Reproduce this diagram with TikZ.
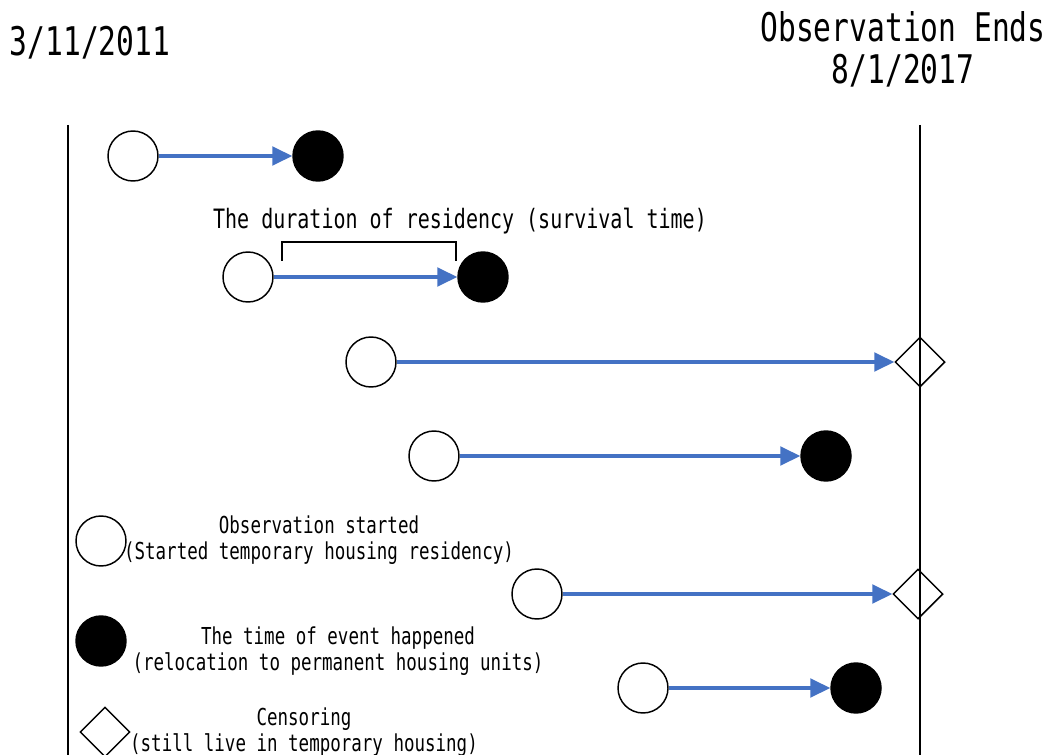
\documentclass[tikz,border=0pt]{standalone}
\usepackage{fontspec}
\usepackage{graphicx}
\setmonofont{DejaVu Sans Mono}
\usetikzlibrary{shapes.geometric,arrows.meta}
\definecolor{arrblue}{RGB}{68,114,196}
\newcommand{\narrow}[1]{\scalebox{0.75}[1]{#1}}
\tikzset{
  start/.style={circle,draw,line width=1.1pt,minimum size=37.5pt,inner sep=0pt},
  event/.style={circle,draw,fill=black,line width=1.1pt,minimum size=37.5pt,inner sep=0pt},
  censor/.style={diamond,draw,line width=1.1pt,minimum width=37.5pt,minimum height=37.5pt,inner sep=0pt},
  arr/.style={-{Triangle[length=15pt,width=14pt]},line width=2.4pt,arrblue},
  bigtxt/.style={font=\ttfamily\fontsize{29.6}{31.5}\selectfont,align=center,inner sep=0pt},
  midtxt/.style={font=\ttfamily\fontsize{20}{22}\selectfont,align=center,inner sep=0pt},
  smalltxt/.style={font=\ttfamily\fontsize{17.5}{19.5}\selectfont,align=center,inner sep=0pt}
}

\begin{document}
\begin{tikzpicture}[x=0.75pt,y=-0.75pt]
	\useasboundingbox (0,0) rectangle (1055,755);
	% time limits
	\draw[line width=1.5pt] (68,125) -- (68,755);
	\draw[line width=1.5pt] (920,125) -- (920,755);
	\node[bigtxt] (begin) at (90,43) {\narrow{3/11/2011}};
	\node[bigtxt] (finish) at (903,49) {\narrow{Observation Ends}\\\narrow{8/1/2017}};

	% subjects
	\node[start] (s1) at (133,156) {};
	\node[event] (e1) at (318,156) {};
	\draw[arr] (s1) -- (e1);

	\node[start] (s2) at (248,277) {};
	\node[event] (e2) at (483,277) {};
	\draw[arr] (s2) -- (e2);
	\draw[line width=2.2pt] (282,261) -- (282,242) -- (456,242) -- (456,261);
	\node[midtxt] (dur) at (460,221) {\narrow{The duration of residency (survival time)}};

	\node[start] (s3) at (371,362) {};
	\node[censor] (c3) at (920,362) {};
	\draw[arr] (s3) -- (c3);

	\node[start] (s4) at (434,456) {};
	\node[event] (e4) at (826,456) {};
	\draw[arr] (s4) -- (e4);

	\node[start] (s5) at (537,594) {};
	\node[censor] (c5) at (918,594) {};
	\draw[arr] (s5) -- (c5);

	\node[start] (s6) at (643,688) {};
	\node[event] (e6) at (856,688) {};
	\draw[arr] (s6) -- (e6);

	% legend
	\node[start] (keystart) at (101,541) {};
	\node[smalltxt] (keystarttxt) at (319,540) {\narrow{Observation started}\\\narrow{(Started temporary housing residency)}};
	\node[event] (keyevent) at (101,641) {};
	\node[smalltxt] (keyeventtxt) at (338,651) {\narrow{The time of event happened}\\\narrow{(relocation to permanent housing units)}};
	\node[censor] (keycensor) at (105,732) {};
	\node[smalltxt] (keycensortxt) at (304,732) {\narrow{Censoring}\\\narrow{(still live in temporary housing)}};
\end{tikzpicture}
\end{document}
